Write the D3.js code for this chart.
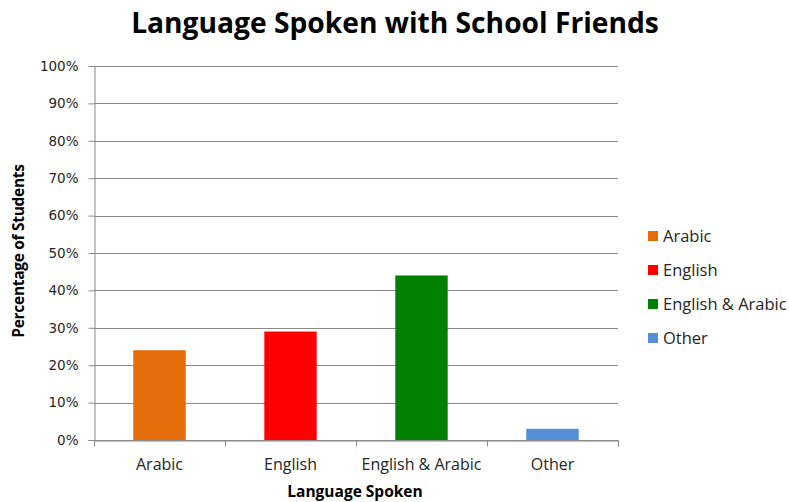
<!DOCTYPE html>
<html>
<head>
<meta charset="utf-8">
<script src="https://cdn.jsdelivr.net/npm/d3@7"></script>
<style>
  html, body { margin: 0; padding: 0; background: #fff; }
  svg { display: block; font-family: "Open Sans", "Liberation Sans", sans-serif; }
</style>
</head>
<body>
<svg id="chart" width="789" height="502"></svg>
<script>
// Share of students by language spoken with school friends
const categories = ["Arabic", "English", "English & Arabic", "Other"];
const values = [24, 29, 44, 3];
const colors = ["#E46C0A", "#FF0000", "#008000", "#558ED5"];
const yTicks = [0, 10, 20, 30, 40, 50, 60, 70, 80, 90, 100];

const svg = d3.select("#chart");
const plot = { left: 94, right: 618, top: 66, bottom: 440 };

const x = d3.scaleBand()
  .domain(categories)
  .range([plot.left, plot.right])
  .paddingInner(0.6)
  .paddingOuter(0.3);
const y = d3.scaleLinear().domain([0, 100]).range([plot.bottom, plot.top]);

const gridColor = "#8a8a8a";
const textColor = "#262626";

// Title
svg.append("text")
  .attr("x", 395).attr("y", 33)
  .attr("text-anchor", "middle")
  .attr("font-size", 28.2).attr("font-weight", "bold")
  .attr("fill", "#000")
  .text("Language Spoken with School Friends");

// Horizontal gridlines
svg.append("g")
  .selectAll("line")
  .data(yTicks)
  .join("line")
  .attr("x1", plot.left).attr("x2", plot.right)
  .attr("y1", d => Math.round(y(d)) + 0.5).attr("y2", d => Math.round(y(d)) + 0.5)
  .attr("stroke", gridColor).attr("stroke-width", 1);

// Y axis
const yAxis = svg.append("g")
  .attr("transform", `translate(${plot.left + 0.5},0)`)
  .call(d3.axisLeft(y).tickValues(yTicks).tickSize(6).tickPadding(10).tickFormat(d => d + "%"));
yAxis.select(".domain").attr("stroke", gridColor);
yAxis.selectAll(".tick line").attr("stroke", gridColor);
yAxis.selectAll(".tick text").attr("font-size", 13.5).attr("fill", textColor)
  .attr("font-family", "'DejaVu Sans', Verdana, sans-serif");

// X axis with ticks at category boundaries
const xAxis = svg.append("g")
  .attr("transform", `translate(0,${plot.bottom + 0.5})`)
  .call(d3.axisBottom(x).tickSize(0).tickPadding(18));
xAxis.select(".domain").attr("stroke", gridColor);
xAxis.selectAll(".tick text").attr("font-size", 16).attr("fill", textColor)
  .attr("font-family", "'Open Sans', sans-serif");
const bounds = d3.range(categories.length + 1)
  .map(i => plot.left + i * (plot.right - plot.left) / categories.length);
xAxis.append("g").selectAll("line")
  .data(bounds)
  .join("line")
  .attr("x1", d => Math.round(d) + 0.5).attr("x2", d => Math.round(d) + 0.5)
  .attr("y1", 0).attr("y2", 6)
  .attr("stroke", gridColor);

// Bars
svg.append("g")
  .selectAll("rect")
  .data(values)
  .join("rect")
  .attr("x", (d, i) => x(categories[i]))
  .attr("width", x.bandwidth())
  .attr("y", d => y(d))
  .attr("height", d => y(0) - y(d))
  .attr("fill", (d, i) => colors[i]);

// Axis titles
svg.append("text")
  .attr("transform", "translate(24,251) rotate(-90)")
  .attr("text-anchor", "middle")
  .attr("font-size", 15.5).attr("font-weight", "bold")
  .attr("letter-spacing", -0.3)
  .text("Percentage of Students");

svg.append("text")
  .attr("x", 355).attr("y", 497)
  .attr("text-anchor", "middle")
  .attr("font-size", 15.5).attr("font-weight", "bold")
  .text("Language Spoken");

// Legend
const legend = svg.append("g").attr("transform", "translate(648,236)");
const item = legend.selectAll("g")
  .data(categories)
  .join("g")
  .attr("transform", (d, i) => `translate(0,${i * 34})`);
item.append("rect")
  .attr("x", 0).attr("y", -5).attr("width", 10).attr("height", 10)
  .attr("fill", (d, i) => colors[i]);
item.append("text")
  .attr("x", 15).attr("y", 6)
  .attr("font-size", 16.5).attr("fill", textColor)
  .text(d => d);
</script>
</body>
</html>
